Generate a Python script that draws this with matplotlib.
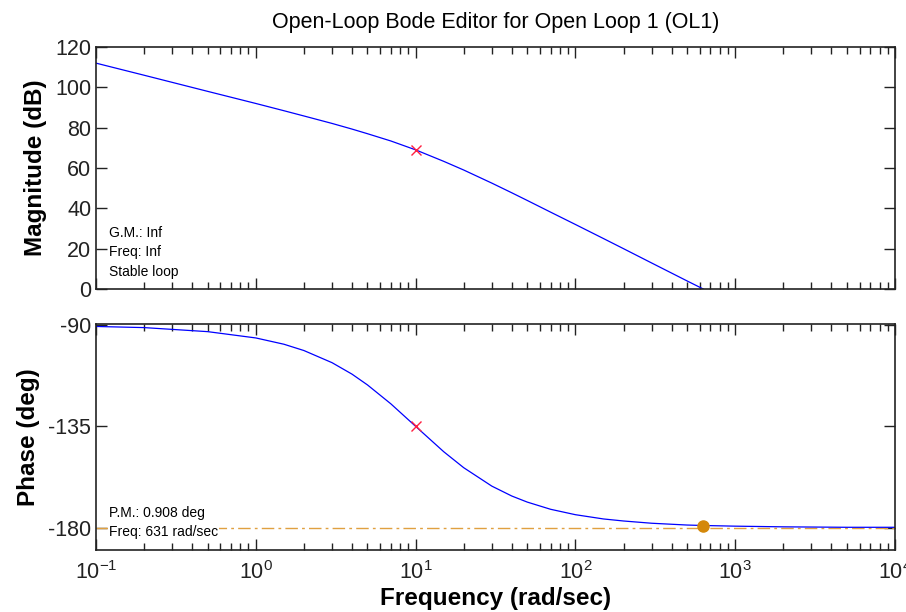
import numpy as np
import matplotlib
matplotlib.use('Agg')
import matplotlib.pyplot as plt
from matplotlib.ticker import LogLocator, FixedLocator, NullFormatter

plt.rcParams['font.family'] = ['Liberation Sans', 'DejaVu Sans']
plt.rcParams['mathtext.fontset'] = 'custom'
plt.rcParams['mathtext.rm'] = 'Liberation Sans'
plt.rcParams['mathtext.it'] = 'Liberation Sans'
plt.rcParams['axes.unicode_minus'] = False

# Values
freq_mag = [0.1, 0.2, 0.5, 1, 1.5, 2, 3, 4, 5, 7, 10, 15, 20, 30, 40, 50, 70, 100, 150, 200, 300, 500, 631]
mag_db = [112.0, 106.0, 98.0, 92.0, 88.4, 85.8, 82.1, 79.3, 77.0, 73.4, 69.0, 63.3, 59.0, 52.5, 47.7, 43.9, 38.1, 32.0, 25.0, 20.0, 12.9, 4.0, 0.0]

freq_ph = [0.1, 0.2, 0.5, 1, 1.5, 2, 3, 4, 5, 7, 10, 15, 20, 30, 40, 50, 70, 100, 150, 200, 300, 500, 631, 1000, 2000, 5000, 10000]
phase_deg = [-90.6, -91.1, -92.9, -95.7, -98.5, -101.3, -106.7, -111.8, -116.6, -125.0, -135.0, -146.3, -153.4, -161.6, -166.0, -168.7, -171.9, -174.3, -176.2, -177.1, -178.1, -178.9, -179.1, -179.4, -179.7, -179.9, -179.9]

comp_freq = 10
comp_mag = 69.0
comp_phase = -135.0
pm_freq = 631
pm_phase = -179.2

mag_notes = ['G.M.: Inf', 'Freq: Inf', 'Stable loop']
phase_notes = ['P.M.: 0.908 deg', 'Freq: 631 rad/sec']

fig = plt.figure(figsize=(9.06, 6.12), dpi=100)
ax1 = fig.add_axes([96 / 906, 1 - 289 / 612, 799 / 906, 242 / 612])
ax2 = fig.add_axes([96 / 906, 1 - 550 / 612, 799 / 906, 226 / 612])

for ax in (ax1, ax2):
    ax.set_xscale('log')
    ax.set_xlim(0.1, 1e4)
    ax.xaxis.set_major_locator(LogLocator(base=10, numticks=10))
    ax.xaxis.set_minor_locator(LogLocator(base=10, subs=np.arange(2, 10), numticks=10))
    ax.xaxis.set_minor_formatter(NullFormatter())
    ax.tick_params(which='both', direction='in', top=True, right=True, labelsize=15.5, colors='#222222')
    ax.tick_params(which='major', length=8, width=1)
    ax.tick_params(which='minor', length=5, width=1)
    ax.tick_params(axis='x', pad=8)
    for s in ax.spines.values():
        s.set_linewidth(1.2)
        s.set_color('#222222')

# magnitude
ax1.plot(freq_mag, mag_db, color='#0000ff', lw=0.9)
ax1.plot(comp_freq, comp_mag, 'x', color='#ff2040', ms=7, mew=1)
ax1.set_ylim(0, 120)
ax1.yaxis.set_major_locator(FixedLocator([0, 20, 40, 60, 80, 100, 120]))
ax1.xaxis.set_major_formatter(NullFormatter())
ax1.set_ylabel('Magnitude (dB)', fontsize=17.5, fontweight='bold', labelpad=6)
ax1.set_title('Open-Loop Bode Editor for Open Loop 1 (OL1)', fontsize=15.5, pad=14)
for i, t in enumerate(mag_notes):
    ax1.text(0.016, 0.232 - i * 0.080, t, transform=ax1.transAxes, fontsize=10, va='center')

# phase
ax2.axhline(-180, color='#e0a040', lw=1, ls=(0, (9, 3, 2, 3)))
ax2.plot(freq_ph, phase_deg, color='#0000ff', lw=0.9)
ax2.plot(comp_freq, comp_phase, 'x', color='#ff2040', ms=7, mew=1)
ax2.plot(pm_freq, pm_phase, 'o', color='#d4880a', ms=8)
ax2.set_ylim(-190, -89.5)
ax2.yaxis.set_major_locator(FixedLocator([-180, -135, -90]))
ax2.set_ylabel('Phase (deg)', fontsize=17.5, fontweight='bold', labelpad=6)
ax2.set_xlabel('Frequency (rad/sec)', fontsize=17.5, fontweight='bold', labelpad=2)
for i, t in enumerate(phase_notes):
    ax2.text(0.016, 0.163 - i * 0.084, t, transform=ax2.transAxes, fontsize=10, va='center',
             bbox=dict(facecolor='white', edgecolor='none', pad=0.5))

fig.savefig('out.png', dpi=100)
